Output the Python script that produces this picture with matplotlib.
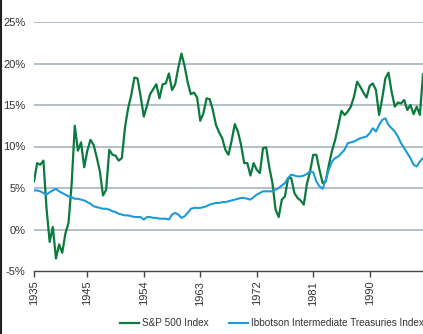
import matplotlib
matplotlib.use("Agg")
import matplotlib.pyplot as plt
from matplotlib.lines import Line2D
import numpy as np

plt.rcParams["font.family"] = ["Liberation Sans", "DejaVu Sans"]

# rolling returns, half-year steps, in %
sp500 = [5.8, 8.0, 7.8, 8.3, 2.5, -1.5, 0.3, -3.5, -1.8, -2.8,
         -0.5, 0.8, 5.5, 12.5, 9.5, 10.5, 7.5, 9.5, 10.8, 10.2,
         8.7, 7.0, 4.1, 4.8, 9.6, 9.0, 8.9, 8.3, 8.6, 12.3,
         14.6, 16.2, 18.3, 18.2, 16.0, 13.6, 14.9, 16.3, 16.9, 17.5,
         15.8, 17.5, 17.6, 18.8, 16.8, 17.5, 19.5, 21.2, 19.7, 17.7,
         16.3, 16.5, 15.9, 13.1, 14.0, 15.8, 15.7, 14.4, 12.6, 11.7,
         11.0, 9.6, 9.0, 10.7, 12.7, 11.8, 10.2, 8.0, 8.0, 6.5,
         8.0, 7.2, 6.8, 9.8, 9.9, 7.5, 5.6, 2.4, 1.5, 3.6,
         4.0, 6.2, 6.2, 4.4, 3.8, 3.5, 3.0, 5.5, 7.0, 9.0,
         9.0, 7.2, 5.6, 5.8, 7.8, 9.5, 10.8, 12.5, 14.3, 13.8,
         14.2, 14.8, 16.0, 17.8, 17.2, 16.5, 15.9, 17.3, 17.6, 16.8,
         13.8, 15.8, 18.2, 18.9, 16.6, 14.8, 15.3, 15.2, 15.6, 14.4,
         15.0, 13.9, 14.8, 13.8, 18.7]

treasuries = [4.7, 4.7, 4.6, 4.4, 4.2, 4.5, 4.7, 4.9, 4.6, 4.4,
              4.2, 4.0, 3.9, 3.7, 3.7, 3.6, 3.5, 3.3, 3.1, 2.8,
              2.7, 2.6, 2.5, 2.5, 2.4, 2.2, 2.1, 1.9, 1.8, 1.7,
              1.7, 1.6, 1.5, 1.5, 1.5, 1.2, 1.5, 1.5, 1.4, 1.4,
              1.3, 1.3, 1.3, 1.2, 1.8, 2.0, 1.8, 1.4, 1.6, 2.0,
              2.5, 2.6, 2.6, 2.6, 2.7, 2.8, 3.0, 3.1, 3.2, 3.2,
              3.3, 3.3, 3.4, 3.5, 3.6, 3.7, 3.8, 3.8, 3.7, 3.6,
              3.9, 4.2, 4.4, 4.6, 4.6, 4.6, 4.6, 4.8, 5.0, 5.3,
              5.6, 6.2, 6.6, 6.5, 6.4, 6.4, 6.5, 6.7, 7.0, 6.9,
              5.8, 5.2, 4.9, 6.0, 7.2, 8.2, 8.6, 8.8, 9.2, 9.6,
              10.4, 10.5, 10.6, 10.8, 11.0, 11.1, 11.2, 11.6, 12.2, 11.8,
              12.6, 13.2, 13.4, 12.6, 12.2, 11.8, 11.2, 10.4, 9.8, 9.2,
              8.6, 7.8, 7.6, 8.2, 8.6]

tick_pos = [0, 17, 35, 53, 71, 89, 107]
tick_labels = ["1935", "1945", "1954", "1963", "1972", "1981", "1990"]
y_ticks = [-5, 0, 5, 10, 15, 20, 25]

green = "#0b7a3e"
blue = "#1c9bd8"
text_col = "#333333"

x = np.arange(len(sp500))

fig = plt.figure(figsize=(4.23, 3.34), dpi=100)
ax = fig.add_axes([34 / 423, 1 - 271 / 334, 1 - 34 / 423, (271 - 22) / 334])

ax.plot(x, sp500, color=green, lw=1.6, label="S&P 500 Index", zorder=3)
ax.plot(x, treasuries, color=blue, lw=1.5,
        label="Ibbotson Intermediate Treasuries Index", zorder=3)

ax.set_xlim(0, len(sp500) - 1)
ax.set_ylim(-5, 25)
ax.set_yticks(y_ticks)
ax.set_yticklabels([f"{v}%" for v in y_ticks])
ax.set_xticks(tick_pos)
ax.set_xticklabels(tick_labels, rotation=90)

for v in y_ticks[1:]:
    ax.axhline(v, color="#b3bfc8", lw=1.4, zorder=1)

for s in ["top", "right", "left"]:
    ax.spines[s].set_visible(False)
ax.spines["bottom"].set_color("#444444")
ax.spines["bottom"].set_linewidth(1.0)

ax.tick_params(axis="y", length=0, pad=6, labelsize=8, colors=text_col)
ax.tick_params(axis="x", direction="out", length=4, width=1, color="#444444",
               pad=3, labelsize=8, labelcolor=text_col)

fig.legend(loc="center", bbox_to_anchor=(0.643, 1 - 323 / 334), ncol=2,
           frameon=False, fontsize=7.2, handlelength=1.9, handletextpad=0.3,
           columnspacing=2.0, labelcolor=text_col, borderpad=0)

fig.add_artist(Line2D([0.002, 0.002], [0, 1], color="#222222", lw=1.5))

fig.savefig("out.png", dpi=100)
